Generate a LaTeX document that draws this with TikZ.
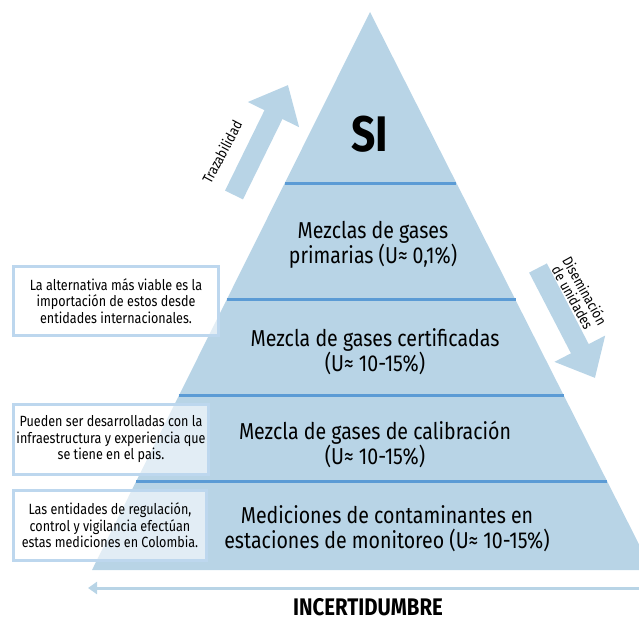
\documentclass[tikz,border=0pt]{standalone}
\usepackage{fontspec}
\setmainfont[FakeStretch=0.85]{Fira Sans}
\usepackage{tikz}
\usetikzlibrary{positioning,calc,arrows.meta}
\definecolor{piramide}{HTML}{B8D4E6}
\definecolor{franja}{HTML}{5B9BD5}
\definecolor{marco}{HTML}{BDD7EE}

\begin{document}
\begin{tikzpicture}[x=1pt,y=-1pt,
  capa/.style = {align=center, font=\fontsize{23}{25}\selectfont},
  nota/.style = {draw=marco, line width=3pt, fill=white, fill opacity=0.6,
    text opacity=1, align=center, font=\fontsize{14.8}{16.5}\selectfont},
  flecha/.style = {piramide, line width=20pt,
    -{Triangle[width=55pt,length=33pt]}},
  franjaline/.style = {franja, line width=3pt}
  ]
  \useasboundingbox (0,0) rectangle (639,623);
  \coordinate (apex) at (370,12);
  \coordinate (bl) at (92,570);
  \coordinate (br) at (652,570);
  \fill[piramide] (apex) -- (bl) -- (br) -- cycle;
  \foreach \t in {0.3065,0.516,0.688,0.8405}
    \draw[franjaline] ($(apex)!\t!(bl)$) -- ($(apex)!\t!(br)$);

  \node[font=\fontsize{50}{50}\selectfont\bfseries] (si) at (370,134) {SI};
  \node[capa] (primarias) at (373,245) {Mezclas de gases\\primarias (U≈ 0,1\%)};
  \node[capa] (certificadas) at (375,352) {Mezcla de gases certificadas\\(U≈ 10-15\%)};
  \node[capa] (calibracion) at (375,444) {Mezcla de gases de calibración\\(U≈ 10-15\%)};
  \node[capa] (mediciones) at (387,529) {Mediciones de contaminantes en\\estaciones de monitoreo (U≈ 10-15\%)};

  \node[nota, minimum width=205pt, minimum height=69pt] (importacion) at (116,301)
    {La alternativa más viable es la\\importación de estos desde\\entidades internacionales.};
  \node[nota, minimum width=195pt, minimum height=70pt] (infraestructura) at (111,439.5)
    {Pueden ser desarrolladas con la\\infraestructura y experiencia que\\se tiene en el pais.};
  \node[nota, minimum width=193pt, minimum height=70pt] (entidades) at (110,525.5)
    {Las entidades de regulación,\\control y vigilancia efectúan\\estas mediciones en Colombia.};

  \coordinate (traz0) at (234,195);
  \coordinate (traz1) at (288,85);
  \draw[flecha] (traz0) -- (traz1);
  \node[rotate=62, font=\fontsize{14.5}{16}\selectfont] (trazabilidad) at (222,152) {Trazabilidad};

  \coordinate (dis0) at (538,268);
  \coordinate (dis1) at (595,378);
  \draw[flecha] (dis0) -- (dis1);
  \node[rotate=-61, align=center, font=\fontsize{14.5}{14}\selectfont] (diseminacion) at (579,294)
    {Diseminación\\de unidades};

  \coordinate (inc0) at (639,588);
  \coordinate (inc1) at (88,588);
  \draw[piramide, line width=3pt, -{Triangle[width=12pt,length=9pt]}] (inc0) -- (inc1);
  \node[font=\fontsize{24}{26}\selectfont\bfseries] (incertidumbre) at (368,607) {INCERTIDUMBRE};
\end{tikzpicture}
\end{document}
